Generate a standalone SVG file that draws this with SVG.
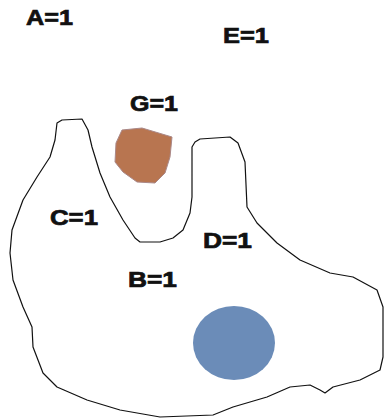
<svg xmlns="http://www.w3.org/2000/svg" width="385" height="419" viewBox="0 0 385 419">
<style>
text{font-family:"Liberation Sans",Arial,sans-serif;font-weight:bold;font-size:22px;fill:#111;stroke:#111;stroke-width:0.7}
.outline{fill:none;stroke:#111;stroke-width:1.2;stroke-linejoin:round}
</style>
<rect width="385" height="419" fill="#fff"/>
<g id="region">
<path class="outline" d="M57,123 L62,120 L82,119 L88,130 L92,147 L100,173 L110,197 L123,220 L135,238 L140,242 L160,242 L173,238 L183,230 L190,213 L192,197 L192,147 L195,142 L200,139 L230,137 L238,143 L245,162 L247,207 L257,223 L277,243 L300,260 L330,273 L353,277 L377,290 L383,307 L383,327 L383,357 L380,370 L360,380 L333,387 L325,393 L320,390 L310,385 L290,387 L267,397 L233,407 L213,415 L160,417 L120,410 L87,400 L57,387 L43,373 L33,347 L32,327 L23,307 L13,280 L10,253 L12,230 L23,200 L37,177 L50,157 L55,140 Z"/>
</g>
<g id="G-shape">
<path d="M122,130 L142,128 L172,137 L170,157 L165,173 L155,183 L137,182 L123,172 L115,162 L116,143 Z" fill="#b87550" stroke="#a88"/>
</g>
<g id="B-circle">
<ellipse cx="234" cy="343" rx="41" ry="37" fill="#6b8cb8"/>
</g>
<g id="labels">
<text x="26" y="25" textLength="47" lengthAdjust="spacingAndGlyphs">A=1</text>
<text x="223" y="43" textLength="46" lengthAdjust="spacingAndGlyphs">E=1</text>
<text x="130" y="111" textLength="48" lengthAdjust="spacingAndGlyphs">G=1</text>
<text x="50" y="225" textLength="48" lengthAdjust="spacingAndGlyphs">C=1</text>
<text x="203" y="248" textLength="49" lengthAdjust="spacingAndGlyphs">D=1</text>
<text x="128" y="287" textLength="49" lengthAdjust="spacingAndGlyphs">B=1</text>
</g>
</svg>
